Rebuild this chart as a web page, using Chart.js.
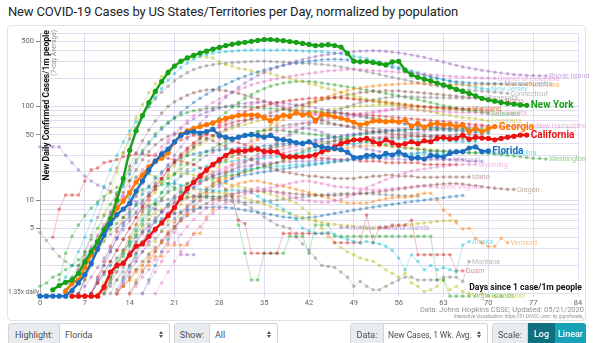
<!DOCTYPE html>
<html>
<head>
<meta charset="utf-8">
<script src="https://cdn.jsdelivr.net/npm/chart.js@4.4.1/dist/chart.umd.min.js"></script>
<style>
  body { margin: 0; width: 600px; height: 343px; overflow: hidden; background: #fff; position: relative;
         font-family: Roboto, "Helvetica Neue", Arial, sans-serif; }
  #title { position: absolute; left: 8px; top: 4px; font-size: 13px; letter-spacing: -0.15px; color: #212529; white-space: nowrap; }
  #card { position: absolute; left: 7px; top: 25px; width: 577px; height: 294px; border: 1px solid #e0e3e7; border-radius: 4px; }
  #chart { position: absolute; left: 0; top: 0; }
  .src { position: absolute; right: 16px; color: #8d9297; white-space: nowrap; }
  .box { position: absolute; top: 323px; height: 22px; line-height: 22px; font-size: 9px; box-sizing: border-box;
         border: 1px solid #ced4da; white-space: nowrap; overflow: hidden; }
  .lbl { background: #e9ecef; color: #495057; text-align: center; border-radius: 3px 0 0 3px; }
  .sel { background: #fff; color: #495057; padding-left: 5px; border-left: 0; border-radius: 0 3px 3px 0; }
  .sel i { position: absolute; right: 6px; top: 7px; width: 0; height: 0; border-left: 2.5px solid transparent;
           border-right: 2.5px solid transparent; border-bottom: 3px solid #555; }
  .sel i::after { content: ""; position: absolute; left: -2.5px; top: 4px; border-left: 2.5px solid transparent;
           border-right: 2.5px solid transparent; border-top: 3px solid #555; }
  .btn { color: #fff; text-align: center; border: 0; font-weight: 500; }
</style>
</head>
<body>
<div id="title">New COVID-19 Cases by US States/Territories per Day, normalized by population</div>
<div id="card"></div>
<canvas id="chart" width="600" height="320"></canvas>
<div class="src" style="top:305px;font-size:7.5px;">Data: Johns Hopkins CSSE; Updated: 05/21/2020</div>
<div class="src" style="top:314px;font-size:4.6px;">Interactive Visualization: https://91-DIVOC.com/ by @profwade_</div>

<div class="box lbl" style="left:8px;width:52px;">Highlight:</div>
<div class="box sel" style="left:60px;width:110px;">Florida<i></i></div>
<div class="box lbl" style="left:174px;width:36px;">Show:</div>
<div class="box sel" style="left:210px;width:68px;">All<i></i></div>
<div class="box lbl" style="left:350px;width:34px;">Data:</div>
<div class="box sel" style="left:384px;width:104px;padding-left:4px;font-size:8.5px;letter-spacing:-0.1px;">New Cases, 1 Wk. Avg.<i></i></div>
<div class="box lbl" style="left:492px;width:36px;">Scale:</div>
<div class="box btn" style="left:528px;width:27px;background:#10707f;">Log</div>
<div class="box btn" style="left:555px;width:31px;background:#17a2b8;border-radius:0 3px 3px 0;">Linear</div>

<script>
// days since 1 case/1m people on x, 7-day average of new cases per 1m on y
const xTickValues = [0, 7, 14, 21, 28, 35, 42, 49, 56, 63, 70, 77, 84];
const yGridValues = [1, 2, 3, 4, 5, 6, 7, 8, 9, 10, 20, 30, 40, 50, 60, 70, 80, 90, 100, 200, 300, 400, 500, 600];
const yLabelValues = [5, 10, 50, 100, 500];

// highlighted states
const floridaStart = 0;
const floridaValues = [
  0.94, 0.94, 0.94, 0.94, 0.94, 1.08, 1.3, 1.6, 2.1, 3.0,
  4.2, 5.6, 7.0, 8.0, 9.2, 12.5, 16, 21, 26, 31,
  35, 42, 49, 53, 54, 52, 54, 57, 49, 47,
  45, 47, 49, 50, 49, 47, 49, 45, 44, 43,
  41, 40, 42, 38.5, 37, 36, 35.5, 34.5, 32.5, 28.5,
  28.5, 30, 30.3, 29, 31.5, 30.3, 32.8, 30.3, 28, 28.4,
  27.4, 30, 29.5, 29, 31.5, 32.8, 33, 36, 37, 33,
  33.5
];
const newYorkStart = 2;
const newYorkValues = [
  1.1, 1.22, 1.32, 1.4, 1.65, 2.2, 2.8, 3.6, 4.8, 6.3,
  10, 17, 34, 55, 80, 110, 145, 185, 230, 270,
  305, 330, 352, 372, 390, 410, 428, 448, 462, 475,
  485, 497, 508, 520, 520, 512, 505, 495, 485, 472,
  460, 448, 452, 458, 448, 432, 370, 305, 300, 302,
  295, 288, 278, 300, 304, 245, 218, 205, 196, 188,
  178, 170, 162, 152, 145, 138, 130, 122, 118, 114,
  110, 108, 106, 104, 103
];
const georgiaStart = 4;
const georgiaValues = [
  1.05, 1.3, 1.4, 1.9, 2.6, 3.6, 4.8, 6.3, 8.1, 9.8,
  12, 15.5, 18.5, 22.7, 26, 28, 32, 42, 50, 55,
  58.5, 61, 64, 67, 71, 74.7, 77.7, 80, 81, 81,
  81, 76, 70, 75, 81, 78, 86.6, 81, 84, 70,
  82, 81, 77.7, 74.7, 71.5, 67.8, 63.8, 66, 70, 70,
  68.5, 70, 68.5, 71.5, 61, 66, 60, 64.6, 66, 63.5,
  64.6, 61, 63.5, 54, 58.5, 54, 58, 61
];
const californiaStart = 5;
const californiaValues = [
  0.94, 0.94, 0.94, 0.94, 0.94,
  1.18, 1.7, 2.0, 2.1, 2.6, 3.2, 3.4, 4.1, 4.9, 5.7,
  6.8, 8.3, 10.6, 13.3, 15.5, 18, 21, 24, 27, 30,
  33, 33.5, 33.6, 34.5, 35, 33, 33, 32.8, 29, 29,
  29, 29, 29.5, 30.5, 32.8, 35, 37, 40, 42, 44,
  44, 45.6, 42, 40, 44, 41, 38.7, 40, 42, 40,
  43, 42, 45.6, 46.7, 45, 45.6, 49.5, 44.8, 47, 46,
  45.6, 44, 45.6, 47, 48, 49.5, 49.5
];

// all other states and territories
const stateNames = [
  'Rhode Island', 'District of Columbia', 'Massachusetts', 'Nebraska', 'New Jersey', 'Louisiana',
  'Connecticut', 'Maryland', 'South Dakota', 'Minnesota', 'Illinois', 'Delaware', 'Michigan',
  'Pennsylvania', 'Mississippi', 'Indiana', 'Colorado', 'Virginia', 'Tennessee', 'Washington',
  'Missouri', 'Wyoming', 'Idaho', 'West Virginia', 'Oregon', 'Northern Mariana Islands', 'Alaska',
  'Vermont', 'Montana', 'Guam', 'Virgin Islands', 'Hawaii', 'North Carolina', 'New Hampshire',
  'Iowa', 'Arizona', 'Texas', 'Ohio', 'Utah', 'Nevada', 'Wisconsin', 'Kansas', 'Alabama',
  'Kentucky', 'Puerto Rico', 'Maine', 'Oklahoma'
];
// names written at the end of their line
const labeledStates = [
  'Rhode Island', 'District of Columbia', 'Massachusetts', 'Nebraska', 'New Jersey', 'Minnesota',
  'Maryland', 'South Dakota', 'Illinois', 'Delaware', 'Iowa', 'Connecticut', 'Louisiana',
  'Washington', 'Missouri', 'Wyoming', 'Idaho', 'West Virginia', 'Oregon', 'Northern Mariana Islands',
  'Alaska', 'Vermont', 'Montana', 'Guam', 'Virgin Islands', 'Hawaii', 'North Carolina', 'New Hampshire'
];
const stateStarts = [
  6, 4, 4, 12, 3, 7, 5, 8, 14, 10, 8, 10, 6, 8, 10, 10, 4, 12, 8, 0,
  12, 16, 6, 18, 12, 0, 4, 12, 10, 2, 3, 6, 12, 10, 14, 12, 16, 11, 10, 8,
  10, 14, 12, 14, 9, 8, 0
];
const stateValues = [
  // Rhode Island
  [1.0, 1.2, 1.5, 1.9, 2.4, 3.0, 3.8, 4.8, 6.0, 7.5, 9.5, 12, 15, 19, 24, 30, 37, 45, 55, 66,
   78, 92, 108, 125, 142, 160, 178, 196, 214, 230, 246, 262, 276, 290, 305, 318, 330, 342, 352, 360,
   368, 375, 380, 385, 390, 392, 395, 392, 388, 382, 375, 365, 355, 345, 335, 322, 310, 298, 286, 275,
   265, 258, 250, 244, 238, 232, 228, 224, 220, 217, 215, 214, 213, 213],
  // District of Columbia
  [1.1, 1.4, 1.8, 2.4, 3.2, 4.2, 5.5, 7, 9, 11, 14, 17, 21, 26, 31, 37, 44, 52, 60, 70,
   80, 90, 100, 110, 120, 130, 140, 150, 160, 170, 178, 185, 192, 198, 205, 210, 215, 220, 225, 230,
   235, 240, 242, 245, 248, 250, 248, 245, 242, 240, 238, 235, 232, 230, 228, 225, 222, 218, 215, 212,
   210, 208, 206, 204, 203, 202, 201, 200],
  // Massachusetts
  [1.1, 1.3, 1.6, 2.0, 2.6, 3.5, 5, 7, 10, 14, 19, 25, 32, 40, 48, 57, 66, 76, 86, 98,
   110, 122, 135, 148, 160, 172, 185, 198, 210, 222, 235, 245, 255, 265, 275, 285, 292, 298, 305, 310,
   315, 318, 320, 318, 315, 312, 305, 300, 292, 282, 272, 262, 252, 242, 232, 224, 216, 208, 200, 194,
   188, 184, 181, 179, 178, 177, 176, 176, 175],
  // Nebraska
  [1.0, 1.2, 1.4, 1.7, 2.0, 2.4, 2.9, 3.5, 4.2, 5.0, 6, 7, 8.5, 10, 12, 14, 17, 20, 24, 28,
   33, 38, 44, 50, 57, 64, 72, 80, 88, 96, 104, 112, 120, 128, 135, 142, 148, 154, 158, 162,
   165, 168, 170, 172, 174, 175, 176, 176, 175, 174, 173, 172, 172, 171, 171, 170, 170, 171, 172, 172,
   173, 173, 172, 172, 172],
  // New Jersey
  [1.2, 1.5, 2.0, 2.8, 4.0, 6.0, 9, 14, 21, 30, 42, 55, 68, 82, 100, 125, 155, 190, 225, 260,
   290, 320, 345, 360, 372, 380, 385, 390, 395, 398, 400, 402, 400, 398, 400, 402, 398, 395, 392, 390,
   388, 385, 380, 372, 365, 355, 345, 335, 325, 312, 300, 288, 275, 262, 250, 240, 230, 220, 210, 200,
   192, 185, 178, 172, 166, 160, 156, 153],
  // Louisiana
  [1.5, 2.5, 4, 7, 12, 20, 32, 50, 75, 105, 140, 175, 210, 245, 275, 300, 320, 335, 340, 338,
   330, 300, 280, 270, 255, 250, 240, 230, 235, 225, 215, 205, 200, 190, 185, 175, 170, 160, 155, 150,
   140, 135, 130, 125, 120, 115, 110, 108, 105, 100, 98, 95, 92, 90, 88, 85, 82, 80, 78, 76,
   75, 74, 72, 70],
  // Connecticut
  [1.2, 1.8, 2.8, 4.2, 6.5, 10, 15, 22, 32, 45, 60, 78, 98, 120, 142, 165, 188, 210, 230, 248,
   262, 272, 280, 286, 290, 294, 297, 300, 302, 304, 305, 303, 300, 298, 295, 292, 290, 288, 285, 282,
   278, 272, 265, 258, 250, 242, 235, 228, 220, 212, 205, 198, 192, 186, 180, 175, 170, 166, 162, 158,
   155, 152, 150, 148, 146, 144, 142, 140, 138],
  // Maryland
  [1.0, 1.3, 1.7, 2.2, 2.9, 3.8, 5, 6.5, 8.5, 11, 14, 17, 21, 25, 30, 35, 40, 46, 52, 58,
   64, 70, 76, 82, 88, 93, 98, 102, 106, 110, 113, 116, 118, 120, 122, 123, 124, 125, 124, 123,
   122, 120, 118, 116, 114, 112, 110, 108, 106, 104, 102, 100, 99, 98, 97, 96, 95, 95, 94, 94],
  // South Dakota
  [1.0, 1.2, 1.5, 1.8, 2.3, 2.8, 3.5, 4.5, 6, 8, 11, 15, 22, 32, 45, 60, 75, 88, 98, 105,
   110, 112, 110, 105, 100, 95, 90, 88, 85, 82, 80, 78, 76, 75, 76, 78, 80, 82, 85, 88,
   90, 92, 94, 95, 93, 91, 90, 89, 88, 88, 87, 87, 86, 86, 86, 85],
  // Minnesota
  [1.0, 1.2, 1.4, 1.7, 2.0, 2.4, 2.8, 3.3, 3.9, 4.6, 5.4, 6.3, 7.3, 8.5, 9.8, 11, 13, 15, 17, 19,
   21, 23, 25, 28, 31, 34, 37, 41, 45, 49, 54, 59, 64, 70, 76, 82, 88, 94, 100, 105,
   110, 114, 118, 121, 124, 126, 128, 128, 127, 126, 125, 125, 124, 124, 123, 123, 123, 123, 123, 123],
  // Illinois
  [1.0, 1.3, 1.7, 2.2, 2.9, 3.8, 5, 6.5, 8.4, 11, 14, 17, 21, 25, 29, 33, 37, 41, 45, 49,
   53, 57, 62, 64, 70, 73, 78, 80, 86, 89, 94, 96, 102, 105, 110, 112, 118, 121, 126, 128,
   134, 136, 141, 142, 146, 145, 148, 146, 147, 144, 143, 141, 139, 137, 135, 133, 131, 129, 127, 125,
   123, 121, 119, 117, 115],
  // Delaware
  [1.2, 1.5, 1.9, 2.5, 3.2, 4.2, 5.5, 7, 9, 12, 15, 19, 24, 30, 37, 45, 54, 64, 75, 86,
   98, 110, 122, 134, 145, 155, 165, 172, 178, 182, 185, 186, 185, 182, 178, 174, 170, 166, 162, 158,
   154, 150, 146, 142, 138, 134, 130, 126, 122, 118, 114, 110, 106, 102, 99, 96, 93, 90, 88, 86, 84],
  // Michigan
  [1.0, 1.5, 2.2, 3.3, 5, 7.5, 11, 16, 23, 32, 43, 56, 70, 85, 100, 112, 122, 132, 140, 146,
   150, 152, 150, 147, 143, 138, 132, 126, 120, 114, 108, 102, 96, 91, 86, 82, 78, 74, 71, 68,
   65, 63, 61, 59, 57, 55, 54, 53, 52, 51, 50, 49, 49, 48, 48, 47, 47, 46, 46, 45, 45, 44, 44],
  // Pennsylvania
  [1.0, 1.4, 2, 2.8, 4, 5.6, 8, 11, 15, 20, 26, 33, 41, 50, 58, 66, 74, 81, 87, 92,
   96, 100, 103, 106, 108, 110, 111, 112, 111, 110, 108, 106, 104, 102, 100, 97, 94, 91, 88, 85,
   82, 80, 78, 76, 74, 72, 70, 68, 66, 65, 64, 63, 62, 61, 60, 59, 58, 57, 56, 55, 55],
  // Mississippi
  [1.0, 1.4, 2, 2.8, 3.9, 5.3, 7, 9, 12, 15, 19, 23, 27, 31, 35, 39, 43, 47, 51, 55,
   58, 61, 64, 67, 70, 72, 74, 76, 78, 80, 82, 84, 86, 88, 90, 92, 94, 96, 98, 100,
   101, 102, 103, 104, 104, 104, 103, 102, 101, 100, 98, 96, 95, 94, 93, 92, 91, 90, 90, 89, 88],
  // Indiana
  [1.1, 1.5, 2.1, 2.9, 4, 5.5, 7.5, 10, 13, 17, 21, 26, 31, 36, 41, 46, 51, 56, 60, 64,
   67, 70, 72, 74, 76, 78, 79, 80, 81, 82, 83, 84, 85, 85, 86, 86, 86, 85, 84, 83,
   82, 81, 80, 79, 78, 77, 76, 75, 74, 73, 72, 71, 70, 69, 68, 67, 66, 65, 64, 63, 62],
  // Colorado
  [1.1, 1.5, 2, 2.8, 3.8, 5, 6.8, 9, 12, 16, 21, 27, 34, 42, 51, 60, 68, 75, 81, 86,
   90, 93, 95, 97, 98, 99, 100, 100, 99, 98, 97, 96, 95, 94, 93, 92, 91, 90, 89, 88,
   87, 86, 85, 84, 83, 81, 79, 77, 75, 73, 71, 69, 67, 65, 63, 62, 61, 60, 59, 58,
   57, 56, 56, 55, 55, 54, 54],
  // Virginia
  [1.0, 1.3, 1.7, 2.2, 2.8, 3.6, 4.6, 5.8, 7.3, 9, 11, 13, 15.5, 18, 21, 24, 27, 30, 33, 36,
   39, 42, 45, 48, 51, 54, 57, 60, 63, 66, 68, 70, 72, 74, 76, 78, 80, 82, 84, 86,
   88, 90, 92, 94, 96, 98, 99, 100, 100, 99, 98, 97, 96, 95, 94, 93, 92, 91, 90],
  // Tennessee
  [1.0, 1.4, 2, 2.8, 3.9, 5.3, 7, 9, 11.5, 14, 17, 20, 23, 26, 28, 30, 31, 32, 33, 34,
   34, 35, 35, 36, 36, 37, 37, 38, 38, 39, 40, 40, 41, 42, 43, 44, 45, 46, 47, 48,
   49, 50, 51, 52, 53, 54, 55, 55, 56, 56, 57, 57, 57, 57, 56, 56, 55, 55, 54, 54, 53, 53, 52],
  // Washington
  [1.2, 1.3, 1.5, 1.6, 1.8, 2.0, 2.3, 2.6, 3, 3.5, 4.1, 4.8, 5.6, 6.5, 7.5, 8.7, 10, 11.5, 13, 15,
   17, 19, 21.5, 24, 27, 30, 33, 36, 39, 42, 45, 48, 50, 52, 54, 55, 56, 56, 55, 54,
   53, 52, 51, 50, 49, 48, 47, 46, 45, 44, 43, 42, 41, 40, 39, 38, 37, 36, 35.5, 35,
   34.5, 34, 33.5, 33, 32.8, 32.5, 32.3, 32, 32, 31.8, 31.5, 31, 30.5, 30, 29.5, 29, 28.5, 28, 27.8, 27.5],
  // Missouri
  [1.0, 1.3, 1.7, 2.2, 2.8, 3.6, 4.6, 5.8, 7.2, 8.8, 10.5, 12, 13.5, 15, 16.5, 18, 19, 20, 21, 22,
   23, 23.5, 24, 24.5, 25, 25, 25.5, 25.5, 26, 26, 26, 26.5, 26.5, 27, 27, 27, 27.5, 27.5, 27.5, 28,
   28, 28, 27.5, 27.5, 27.5, 27, 27, 27, 27, 27, 27, 27, 27],
  // Wyoming
  [1.0, 1.3, 1.7, 2.2, 2.8, 3.5, 4.3, 5.2, 6.2, 7.2, 8.2, 9.2, 10, 10.8, 11.5, 12, 12.5, 13, 13.5, 13,
   12.5, 12, 11.5, 11, 10.5, 10, 9.8, 9.6, 9.5, 9.5, 9.8, 10.2, 10.8, 11.5, 12.5, 13.5, 14.5, 15.5, 16.5, 17.5,
   18.5, 19.5, 20.5, 21, 21.5, 22, 22.5, 23, 23.5, 23.8, 24, 24, 24],
  // Idaho
  [1.0, 1.4, 2, 2.9, 4.2, 6, 8.5, 12, 16, 21, 27, 33, 39, 44, 48, 51, 52, 52, 51, 49,
   46, 43, 40, 37, 34, 31, 29, 27, 25, 23.5, 22, 21, 20, 19.5, 19, 18.5, 18, 18, 17.5, 17.5,
   17, 17, 17, 17, 17.5, 17.5, 18, 18, 18.5, 18.5, 18, 18, 18, 17.5, 17.5, 17.5, 17.5, 17.6, 17.6, 17.6,
   17.6, 17.6],
  // West Virginia
  [1.0, 1.3, 1.7, 2.2, 2.8, 3.5, 4.3, 5.2, 6.2, 7.2, 8.2, 9.2, 10, 10.8, 11.5, 12, 12.5, 13, 13.5, 14,
   14.5, 15, 15.5, 16, 16, 15.5, 15, 14.5, 14, 13.8, 13.6, 13.4, 13.2, 13, 12.8, 12.8, 13, 13.2, 13.4, 13.6,
   13.8, 14, 14, 13.9, 13.8],
  // Oregon
  [1.0, 1.2, 1.5, 1.8, 2.2, 2.6, 3.1, 3.7, 4.4, 5.2, 6, 6.8, 7.6, 8.4, 9.2, 10, 10.6, 11.2, 11.6, 12,
   12.2, 12.4, 12.5, 12.5, 12.4, 12.2, 12, 11.8, 11.6, 11.5, 11.4, 11.3, 11.2, 11.2, 11.2, 11.3, 11.4, 11.5, 11.7, 11.9,
   12.1, 12.3, 12.5, 12.8, 13.1, 13.4, 13.7, 14, 14.3, 14.5, 14.7, 14.9, 15, 15, 14.8, 14.5, 14.2, 13.9, 13.6, 13.4,
   13.2, 13, 13],
  // Northern Mariana Islands
  [37, 37, 37, 37, 30, 25, 21, 18, 16, 14.5, 13.5, 12.5, 11.5, 10.8, 10.2, 9.6, 9, 8.5, 8, 7.6,
   7.2, 7.2, 2.6, 2.6, 2.6, null, null, null, null, null, null, null, null, null, null, null, null, null, null, null,
   null, null, null, null, null, null, null, 5.1, 5.1],
  // Alaska
  [1.0, 1.3, 1.7, 2.3, 3, 4, 5.2, 6.5, 8, 9.5, 11, 12, 13, 13.5, 14, 14.5, 15, 15, 14.5, 14,
   13.5, 13, 12.8, 12.6, 12.5, 12.6, 12.8, 12.7, 12.7, 12, 11, 10, 9.4, 8.8, 8, 7.2, 6.2, 5.0, 4.7, 4.4,
   4.4, 4.5, 4.3, 4.0, 3.8, 3.6, 3.5, 3.6, 3.5, 3.4, 3.2, 2.9, 2.4, 1.8, 2.6, 2.2, 1.8, 2.0, 1.8, 1.9,
   1.8, 1.7, 3.3, 3.6],
  // Vermont
  [1.0, 1.2, 1.4, 1.8, 1.8, 2.0, 2.5, 2.5, 3.3, 3.3, 3.3, 3.3, 4.4, 4.4, 6.6, 7.8, 10, 12.8, 14, 15,
   15.5, 16, 16, 15.5, 15, 14.5, 14, 13.5, 13, 12.5, 12, 11.5, 11, 10.5, 10, 9.6, 9.3, 9.3, 9.3, 9.3,
   9.6, 10, 10.3, 10.5, 10.7, 10.7, 11, 11.5, 11.8, 11.8, 10, 7.8, 6.9, 5.7, 4.9, 5, 3.9, 3.5, 3.2, 3.2,
   3.9, 3.5],
  // Montana
  [1.0, 1.3, 1.7, 2.2, 2.8, 3.6, 4.5, 5.5, 6.5, 7.5, 8.5, 9.3, 10, 10.5, 11, 11, 11, 10.8, 10.5, 10.2,
   10, 10, 9, 8.2, 7.4, 6.6, 6, 5.4, 5.2, 5, 4, 3.4, 2.9, 2.4, 2, 1.95, 1.9, 1.7, 1.5, 1.2,
   1.35, 1.2, 1.1, 1.1, 1.2, 1.3, 1.4, 1.5, 1.5, 1.4, 1.4, 1.4, 1.4, 1.5, 1.5, 1.5, 1.35, 2.2],
  // Guam
  [4, 8, 11.3, 11.3, 11.3, 16, 21, 22, 25, 26, 27, 29, 30, 31, 31, 30, 30, 29, 28, 27,
   26, 25, 24, 22, 20, 18, 16, 13, 10.8, 6.1, 5.6, 2.7, 2.7, 2.7, 2.7, 2.7, 4.4, 4.4, 4.4, 4.4,
   4.4, 4.4, 4.4, 4.4, 3.5, 3.5, 3.5, 3.5, 3.5, 6.9, 3.5, 5.1, 5.1, 5.4, 5.4, 5.4, 6.1, 2.6, 2.6, 2.6,
   2.6, 2.6, 2.6, 1.75, 1.75],
  // Virgin Islands
  [1.4, 2.7, 4.1, 5.4, 6.8, 8.2, 9.5, 10.9, 12.2, 13.6, 15, 16.3, 17.7, 19, 19, 17.7, 16.3, 15, 13.6, 12.2,
   12.2, 10.9, 10.9, 10.9, 10.9, 10.9, 10.9, 10.9, 5.4, 2.7, 1.4, 1.4, 2.7, 2.7, 2.7, 2.7, 4.1, 4.1, 4.1, 2.7,
   5.4, 5.4, 5.4, 4.1, 4.1, 4.1, 4.1, 4.1, 4.1, 4.1, 4.1, 4.1, 4.1, 4.1, 4.1, 4.1, 4.1, 4.1, 4.1, 1.4,
   1.4, 0.94, 0.94, 0.94, 0.94],
  // Hawaii
  [1.0, 1.4, 2, 2.8, 3.8, 5, 6.5, 8, 9.5, 11, 12.5, 14, 15.5, 17, 18, 19, 19.5, 19, 18.5, 18,
   17, 16, 15.5, 15, 14.5, 14, 13.5, 13, 12.5, 12, 11.5, 11, 10.5, 9.8, 9.3, 8.2, 7.2, 6, 5, 4,
   3.5, 3.1, 2.8, 2.6, 2.4, 2.3, 2.2, 2, 1.8, 1.65, 1.5, 1.65, 1.3, 1.2, 1.05, 1.1, 1.2, 1.4, 1.1, 1.2,
   1.05, 1, 0.94, 1, 0.94, 0.94, 0.94],
  // North Carolina
  [1.0, 1.4, 1.9, 2.6, 3.5, 4.6, 6, 7.5, 9, 10.5, 12, 13.5, 15, 16, 17, 18, 19, 19.5, 20, 20.5,
   21, 21.5, 22, 22, 22.5, 23, 23, 23.5, 24, 24, 24.5, 25, 25, 25.5, 26, 26.5, 27, 27.5, 28, 28,
   28.5, 29, 29, 29.5, 30, 30, 30.5, 31, 31, 31, 31.5, 31.5, 31.5, 32, 32, 32, 32, 32, 32],
  // New Hampshire
  [1.0, 1.3, 1.7, 2.2, 2.8, 3.5, 4.3, 5.2, 6.2, 7.3, 8.5, 9.8, 11, 12.5, 14, 15.5, 17, 18.5, 20, 21.5,
   23, 24.5, 26, 27.5, 29, 30.5, 32, 33.5, 35, 36.5, 38, 39.5, 41, 42.5, 44, 45.5, 47, 48.5, 50, 51,
   52, 53, 54, 55, 56, 57, 58, 58.5, 59, 59.5, 60, 60.5, 61, 61.5, 62, 62, 62, 62, 62, 61.8,
   61.8, 61.7, 61.6, 61.6, 61.5, 61.5, 61.5, 61.5],
  // Iowa
  [1.0, 1.4, 2, 2.7, 3.6, 4.7, 6, 7.5, 9, 11, 13, 15, 17.5, 20, 23, 26, 30, 34, 39, 44,
   50, 56, 63, 70, 78, 86, 94, 102, 110, 116, 120, 122, 124, 125, 124, 122, 120, 118, 116, 114,
   112, 110, 108, 106, 104, 102, 100, 99, 98, 97, 96, 96, 95, 95, 95, 95],
  // Arizona
  [1.1, 1.5, 2, 2.7, 3.6, 4.7, 6, 7.5, 9, 11, 13, 15, 17, 19, 21, 23, 25, 27, 29, 31,
   32, 33, 34, 35, 36, 37, 38, 39, 40, 40, 41, 41, 42, 42, 43, 43, 44, 44, 45, 45,
   46, 46, 46, 47, 47, 47, 48, 48, 48, 48, 49, 49, 49, 50, 50, 50, 50, 50],
  // Texas
  [1.0, 1.4, 2, 2.8, 3.8, 5, 6.4, 8, 9.6, 11, 12.5, 14, 15, 16, 17, 18, 18.5, 19, 19.5, 20,
   20.5, 21, 21.5, 22, 22.5, 23, 23.5, 24, 24.5, 25, 25.5, 26, 26.5, 27, 27.5, 28, 28.5, 29, 29.5, 30,
   30.5, 31, 31.5, 32, 32.5, 33, 33, 33.5, 34, 34],
  // Ohio
  [1.0, 1.4, 1.9, 2.6, 3.5, 4.7, 6.2, 8, 10, 12.5, 15, 18, 21, 24, 27, 30, 33, 36, 39, 42,
   45, 48, 51, 54, 56, 58, 60, 62, 64, 65, 66, 67, 67, 66, 65, 64, 63, 62, 61, 60,
   59, 58, 57, 56, 55, 54, 53, 52, 51, 50, 49, 49, 48, 48, 47, 47, 46, 46, 46],
  // Utah
  [1.0, 1.4, 2, 2.7, 3.6, 4.8, 6.3, 8, 10, 12, 14, 16, 18, 19.5, 21, 22, 23, 24, 25, 25.5,
   26, 26.5, 27, 27, 27.5, 28, 28.5, 29, 29.5, 30, 31, 32, 33, 34, 35, 36, 37, 38, 39, 40,
   41, 42, 43, 44, 44, 45, 45, 45, 45, 44, 44, 44, 43, 43, 43, 42, 42, 42, 42],
  // Nevada
  [1.0, 1.5, 2.2, 3.2, 4.6, 6.5, 9, 12, 16, 20, 25, 30, 35, 40, 44, 47, 49, 50, 50, 49,
   47, 45, 43, 41, 39, 37, 35, 34, 33, 32, 31, 30, 30, 29, 29, 28, 28, 28, 27, 27,
   27, 27, 26, 26, 26, 26, 25, 25, 25, 25, 25, 25, 24, 24, 24, 24, 24, 24],
  // Wisconsin
  [1.0, 1.4, 2, 2.7, 3.6, 4.7, 6, 7.5, 9, 10.5, 12, 13, 14, 15, 15.5, 16, 16.5, 17, 17.5, 18,
   18.5, 19, 20, 21, 22, 23, 24, 25, 27, 29, 31, 33, 35, 37, 39, 41, 43, 45, 47, 49,
   50, 51, 52, 53, 54, 55, 56, 56, 57, 57, 57, 58, 58, 58, 58, 58, 58, 58, 58, 58],
  // Kansas
  [1.0, 1.3, 1.7, 2.2, 2.8, 3.5, 4.3, 5.2, 6.2, 7.3, 8.5, 9.8, 11, 12.5, 14, 15.5, 17, 19, 21, 23,
   26, 30, 35, 40, 46, 52, 56, 58, 58, 56, 53, 50, 47, 44, 41, 39, 37, 35, 34, 33,
   32, 31, 30, 30, 29, 29, 28, 28, 28, 27, 27, 27, 27, 26, 26, 26],
  // Alabama
  [1.0, 1.4, 2, 2.7, 3.6, 4.7, 6, 7.5, 9, 10.5, 12, 13.5, 15, 16.5, 18, 19.5, 21, 22.5, 24, 25,
   26, 27, 28, 29, 30, 31, 32, 33, 34, 35, 36, 37, 38, 39, 40, 41, 42, 43, 44, 45,
   46, 47, 48, 49, 50, 51, 52, 53, 54, 55, 56, 57, 58, 59, 60, 60, 60],
  // Kentucky
  [1.0, 1.3, 1.7, 2.2, 2.8, 3.6, 4.6, 5.8, 7.2, 8.8, 10.5, 12, 13.5, 15, 16, 17, 18, 19, 20, 21,
   22, 23, 24, 25, 26, 27, 28, 29, 30, 31, 32, 33, 34, 35, 36, 37, 38, 38, 38, 38,
   38, 37, 37, 36, 36, 35, 35, 34, 34, 33, 33, 33, 32, 32, 32],
  // Puerto Rico
  [1.0, 1.3, 1.7, 2.2, 2.8, 3.5, 4.3, 5.2, 6.2, 7.2, 8, 8.8, 9.5, 10, 10.5, 11, 11.5, 12, 12, 12,
   11.8, 11.5, 11, 10.5, 10, 9.5, 9, 8.5, 8, 7.6, 7.2, 6.8, 6.5, 6.2, 6, 5.8, 5.6, 5.5, 5.4, 5.3,
   5.2, 5.1, 5, 5, 5, 5.1, 5.2, 5.3, 5.4, 5.5, 5.6, 5.7, 5.8, 5.9, 6, 6, 6],
  // Maine
  [1.0, 1.3, 1.6, 2, 2.4, 2.9, 3.4, 4, 4.6, 5.2, 5.8, 6.3, 6.8, 7.2, 7.5, 7.8, 8, 8.2, 8.3, 8.4,
   8.4, 8.3, 8.2, 8, 7.8, 7.6, 7.4, 7.2, 7, 6.8, 6.6, 6.5, 6.4, 6.4, 6.5, 6.6, 6.8, 7, 7.2, 7.4,
   7.6, 7.8, 8, 8.2, 8.4, 8.6, 8.8, 9, 9.2, 9.4, 9.6, 9.8, 10, 10.2, 10.4, 10.6, 10.8, 11, 11.2],
  // Oklahoma
  [4.5, 3.7, 3, 2.5, 2.2, 2, 2, 2.2, 2.5, 3, 3.6, 4.3, 5, 5.8, 6.5, 7.2, 8, 8.7, 9.3, 9.8,
   10.2, 10.5, 10.7, 10.8, 10.8, 10.7, 10.5, 10.3, 10, 9.8, 9.6, 9.5, 9.4, 9.4, 9.5, 9.6, 9.8, 10, 10.2, 10.4,
   10.6, 10.8, 11, 11.2, 11.4, 11.5, 11.6, 11.7, 11.8, 11.8, 11.8, 11.7, 11.6, 11.5, 11.4, 11.3, 11.2, 11.1, 11, 11]
];

// palette index per state (category10)
const palette = ['31,119,180', '255,127,14', '44,160,44', '214,39,40', '148,103,189',
                 '140,86,75', '227,119,194', '127,127,127', '188,189,34', '23,190,207'];
const stateColors = [4, 6, 0, 1, 9, 8, 7, 3, 6, 7, 5, 2, 5, 4, 8, 3, 2, 6, 0, 2,
                     4, 6, 5, 6, 5, 4, 9, 1, 7, 3, 2, 8, 9, 6, 8, 5, 0, 7, 9, 3,
                     2, 4, 6, 1, 8, 0, 7];

function toPoints(start, values) {
  return values.map((v, i) => ({ x: start + i, y: v }));
}

const highlighted = [
  { label: 'Florida', start: floridaStart, values: floridaValues, color: '#1c6fc0' },
  { label: 'New York', start: newYorkStart, values: newYorkValues, color: '#17a117' },
  { label: 'Georgia', start: georgiaStart, values: georgiaValues, color: '#ff7700' },
  { label: 'California', start: californiaStart, values: californiaValues, color: '#ee1111' }
];

const datasets = highlighted.map(h => ({
  label: h.label,
  data: toPoints(h.start, h.values),
  borderColor: h.color,
  backgroundColor: h.color,
  pointBackgroundColor: h.color,
  pointBorderWidth: 0,
  borderWidth: 2.4,
  pointRadius: 2.6,
  highlight: true,
  showName: true,
  clip: false
}));

stateNames.forEach((name, i) => {
  const rgb = palette[stateColors[i]];
  datasets.push({
    label: name,
    data: toPoints(stateStarts[i], stateValues[i]),
    borderColor: 'rgba(' + rgb + ',0.3)',
    pointBackgroundColor: 'rgba(' + rgb + ',0.48)',
    labelColor: 'rgba(' + rgb + ',0.55)',
    pointBorderWidth: 0,
    borderWidth: 1,
    pointRadius: 1.8,
    highlight: false,
    showName: labeledStates.includes(name),
    clip: false
  });
});

// state name after the last drawn point of each line
const endLabels = {
  id: 'endLabels',
  afterDatasetsDraw(chart) {
    const ctx = chart.ctx;
    ctx.save();
    ctx.textBaseline = 'middle';
    [false, true].forEach(pass => {
      chart.data.datasets.forEach((ds, i) => {
        if (!!ds.highlight !== pass || !ds.showName) return;
        const meta = chart.getDatasetMeta(i);
        let pt = null;
        for (let j = ds.data.length - 1; j >= 0; j--) {
          if (ds.data[j].y != null) { pt = meta.data[j]; break; }
        }
        if (!pt) return;
        if (pass) {
          ctx.font = 'bold 10px Roboto, Arial, sans-serif';
          ctx.fillStyle = ds.borderColor;
          ctx.fillText(ds.label, pt.x + 4, pt.y + 0.5);
        } else {
          ctx.font = '7px Roboto, Arial, sans-serif';
          ctx.fillStyle = ds.labelColor;
          ctx.fillText(ds.label, pt.x + 3, pt.y + 0.5);
        }
      });
    });
    ctx.restore();
  }
};

// axis titles drawn inside the plot area
const axisNotes = {
  id: 'axisNotes',
  afterDraw(chart) {
    const { ctx, chartArea: a } = chart;
    ctx.save();
    ctx.translate(a.left + 7, a.top - 3);
    ctx.rotate(-Math.PI / 2);
    ctx.textAlign = 'right';
    ctx.textBaseline = 'middle';
    ctx.font = 'bold 8.6px Roboto, Arial, sans-serif';
    ctx.fillStyle = '#111';
    ctx.fillText('New Daily Confirmed Cases/1m people', 0, 0);
    ctx.font = '6.6px Roboto, Arial, sans-serif';
    ctx.fillStyle = '#9a9a9a';
    ctx.fillText('(7-day Average)', 0, 7.5);
    ctx.restore();

    ctx.save();
    ctx.textBaseline = 'middle';
    ctx.textAlign = 'right';
    ctx.font = '6.5px Roboto, Arial, sans-serif';
    ctx.fillStyle = '#666';
    ctx.fillText('1.35x daily', a.left - 1, a.bottom - 5);
    ctx.font = 'bold 8.6px Roboto, Arial, sans-serif';
    ctx.fillStyle = '#111';
    ctx.fillText('Days since 1 case/1m people', a.right + 4, a.bottom - 9);
    ctx.restore();
  }
};

const gridColor = 'rgba(200,200,230,0.6)';

new Chart(document.getElementById('chart'), {
  type: 'line',
  data: { datasets },
  options: {
    responsive: false,
    animation: false,
    layout: { padding: { left: 0, right: 22, top: 33, bottom: 0 } },
    plugins: { legend: { display: false }, tooltip: { enabled: false } },
    elements: { line: { tension: 0 } },
    scales: {
      x: {
        type: 'linear',
        min: 0,
        max: 84,
        afterBuildTicks: scale => { scale.ticks = xTickValues.map(v => ({ value: v })); },
        afterFit: scale => { scale.height = 23; },
        grid: { color: gridColor, drawTicks: false },
        border: { display: false },
        ticks: { padding: 2, color: '#666', font: { size: 7.5, family: 'Roboto' }, maxRotation: 0 }
      },
      y: {
        type: 'logarithmic',
        min: 0.92,
        max: 610,
        afterBuildTicks: scale => { scale.ticks = yGridValues.map(v => ({ value: v })); },
        afterFit: scale => { scale.width = 40; },
        grid: {
          color: gridColor,
          tickLength: 4,
          tickColor: c => (c.tick && yLabelValues.includes(c.tick.value)) ? '#888' : 'rgba(0,0,0,0)'
        },
        border: { display: true, color: '#a8a8a8' },
        ticks: {
          autoSkip: false,
          padding: 2,
          color: '#666',
          font: { size: 7.5, family: 'Roboto' },
          callback: v => yLabelValues.includes(v) ? String(v) : ''
        }
      }
    }
  },
  plugins: [endLabels, axisNotes]
});
</script>
</body>
</html>
